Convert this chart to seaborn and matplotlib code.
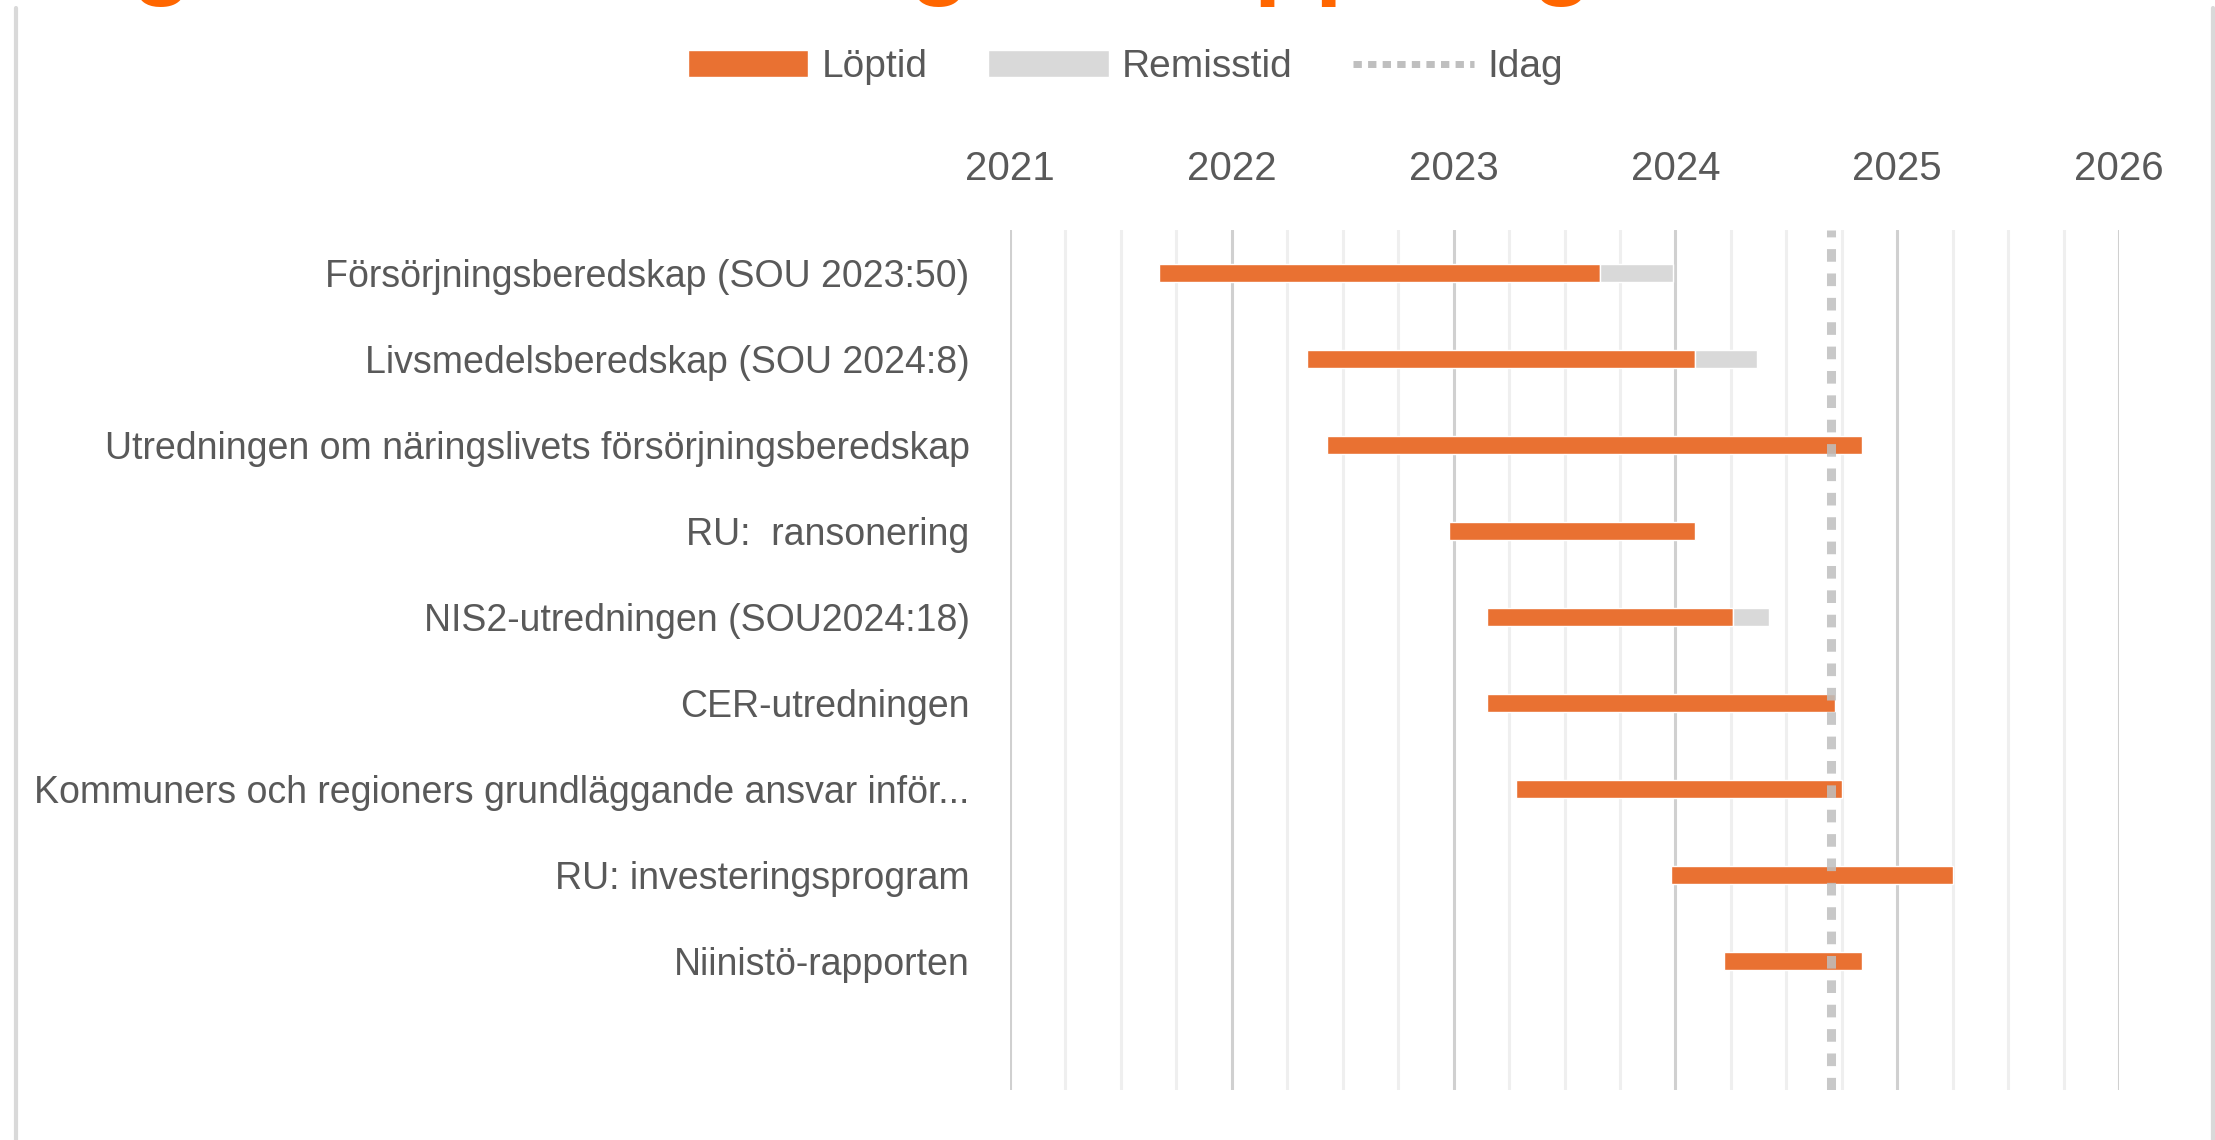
import numpy as np
import pandas as pd
import matplotlib
matplotlib.use("Agg")
import matplotlib.pyplot as plt
import seaborn as sns
from matplotlib import font_manager
from matplotlib.patches import Patch
from matplotlib.lines import Line2D
from matplotlib.ticker import MultipleLocator

# data (decimalår)
labels = [
    "Försörjningsberedskap (SOU 2023:50)",
    "Livsmedelsberedskap (SOU 2024:8)",
    "Utredningen om näringslivets försörjningsberedskap",
    "RU:  ransonering",
    "NIS2-utredningen (SOU2024:18)",
    "CER-utredningen",
    "Kommuners och regioners grundläggande ansvar inför...",
    "RU: investeringsprogram",
    "Niinistö-rapporten",
]
start = [2021.67, 2022.34, 2022.43, 2022.98, 2023.15, 2023.15, 2023.28, 2023.98, 2024.22]
loptid_end = [2023.66, 2024.09, 2024.84, 2024.09, 2024.26, 2024.72, 2024.75, 2025.25, 2024.84]
remiss_end = [2023.99, 2024.37, None, None, 2024.42, None, None, None, None]
idag = 2024.70
years = [2021, 2022, 2023, 2024, 2025, 2026]

ORANGE = "#E97132"
REMISS = "#D9D9D9"
IDAG = "#BFBFBF"
TXT = "#595959"

sns.set_style("white")
names = {f.name for f in font_manager.fontManager.ttflist}
narrow = "Liberation Sans Narrow" if "Liberation Sans Narrow" in names else "Liberation Sans"
plt.rcParams["font.family"] = [narrow, "DejaVu Sans"]

df = pd.DataFrame({"label": labels, "start": start, "end": loptid_end, "remiss": remiss_end})
df["lop"] = df["end"] - df["start"]
rem = df.dropna(subset=["remiss"]).copy()
rem["dur"] = rem["remiss"].astype(float) - rem["end"]
order = labels + [""]

fig = plt.figure(figsize=(22.15, 11.4), dpi=100)
ax = fig.add_axes([1010 / 2215, 50 / 1140, 1109 / 2215, 860 / 1140])

ax.xaxis.set_major_locator(MultipleLocator(1))
ax.xaxis.set_minor_locator(MultipleLocator(0.25))
ax.grid(which="major", axis="x", color="#D0D0D0", lw=2.2, zorder=0)
ax.grid(which="minor", axis="x", color="#EFEFEF", lw=2.2, zorder=0)
ax.set_axisbelow(True)

sns.barplot(data=df, x="lop", y="label", order=order, left=df["start"].values,
            color=ORANGE, width=0.21, errorbar=None, saturation=1, ax=ax, zorder=2)
sns.barplot(data=rem, x="dur", y="label", order=order, left=rem["end"].values,
            color=REMISS, width=0.21, errorbar=None, saturation=1, ax=ax, zorder=2)

ax.axvline(idag, color=IDAG, lw=6.5, linestyle=(0, (1.4, 1.3)), alpha=0.85, zorder=3)

ax.set_xlim(years[0], years[-1])
ax.set_ylim(len(order) - 0.5, -0.5)
ax.set_xticks(years)
ax.set_xticklabels([str(y) for y in years])
ax.xaxis.tick_top()
ax.tick_params(axis="x", which="both", length=0, pad=30, labelsize=29, labelcolor=TXT)
ax.tick_params(axis="y", length=0, pad=29, labelsize=27, labelcolor=TXT)
ax.set_xlabel("")
ax.set_ylabel("")
for s in ax.spines.values():
    s.set_visible(False)

handles = [
    Patch(facecolor=ORANGE, label="Löptid"),
    Patch(facecolor=REMISS, label="Remisstid"),
    Line2D([0], [0], color=IDAG, lw=5, linestyle=(0, (1.2, 0.9)), label="Idag"),
]
fig.legend(handles=handles, loc="center", bbox_to_anchor=(0.508, 0.941), ncol=3,
           frameon=False, fontsize=28, handlelength=3.1, handleheight=0.7,
           handletextpad=0.35, columnspacing=1.55, labelcolor=TXT)

# ram runt diagrammet
fig.add_artist(Line2D([16 / 2215, 16 / 2215], [0, 1 - 8 / 1140], color="#D9D9D9", lw=3))
fig.add_artist(Line2D([2213 / 2215, 2213 / 2215], [0, 1 - 8 / 1140], color="#D9D9D9", lw=3))

# avklippt rubrik ovanför
fig.text(9 / 2215, 1 + 14 / 1140, "Pågående utredningar & uppdrag", color="#FF6600",
         fontsize=72, fontweight="bold", family=["Liberation Sans", "DejaVu Sans"],
         ha="left", va="baseline")

fig.savefig("out.png", dpi=100)
